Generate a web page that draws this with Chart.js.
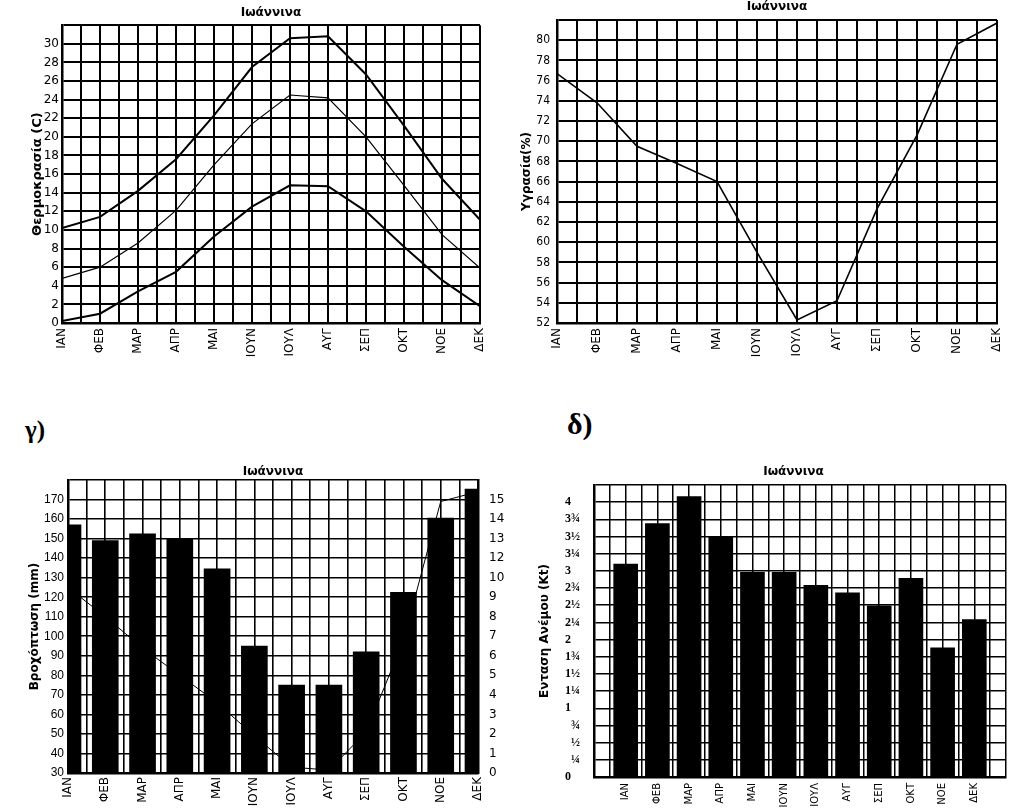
<!DOCTYPE html>
<html>
<head>
<meta charset="utf-8">
<script src="https://cdn.jsdelivr.net/npm/chart.js@4.4.0/dist/chart.umd.min.js"></script>
<style>
    body { margin: 0; background: #fff; width: 1024px; height: 808px; position: relative; overflow: hidden; }
    canvas { position: absolute; }
    .tag { position: absolute; font-family: "Liberation Serif", "DejaVu Serif", serif; font-weight: bold; line-height: 1; color: #000; }
</style>
</head>
<body>

<canvas id="tempChart" width="512" height="400" style="left:0;top:0"></canvas>
<canvas id="humChart" width="512" height="400" style="left:512px;top:0"></canvas>
<div class="tag" style="left:25px;top:417px;font-size:25px">γ)</div>
<div class="tag" style="left:567px;top:409px;font-size:30px">δ)</div>
<canvas id="rainChart" width="512" height="408" style="left:0;top:400px"></canvas>
<canvas id="windChart" width="512" height="408" style="left:512px;top:400px"></canvas>

<script>
// ---- data ----
const months = ["ΙΑΝ", "ΦΕΒ", "ΜΑΡ", "ΑΠΡ", "ΜΑΙ", "ΙΟΥΝ", "ΙΟΥΛ", "ΑΥΓ", "ΣΕΠ", "ΟΚΤ", "ΝΟΕ", "ΔΕΚ"];

const tempMax  = [10.2, 11.4, 14.2, 17.6, 22.3, 27.5, 30.6, 30.8, 26.7, 21.2, 15.5, 11.1];
const tempMean = [4.8, 6.0, 8.6, 12.1, 17.0, 21.4, 24.5, 24.2, 20.0, 14.8, 9.5, 5.9];
const tempMin  = [0.2, 1.0, 3.4, 5.5, 9.3, 12.5, 14.8, 14.7, 12.0, 8.2, 4.6, 1.8];

const humidity = [76.7, 73.8, 69.5, 67.8, 66.0, 59.0, 52.3, 54.2, 63.3, 70.6, 79.6, 81.7];

const rainMm   = [157, 149, 152.5, 150, 134.5, 95, 75, 75, 92, 122.5, 160.5, 175.3];
const rainLine = [9.5, 8.0, 6.4, 5.0, 3.6, 1.9, 0.3, 0.15, 2.1, 6.8, 13.9, 14.4];
const rainRightTicks = ["0", "1", "2", "3", "4", "5", "6", "7", "8", "9", "10", "12", "13", "14", "15", ""];

const windKt = [3.1, 3.69, 4.08, 3.5, 2.98, 2.98, 2.79, 2.68, 2.49, 2.89, 1.88, 2.29];
const windTicks = ["0", "\u2007¼", "\u2007½", "\u2007¾", "1", "1¼", "1½", "1¾", "2", "2¼", "2½", "2¾",
                   "3", "3¼", "3½", "3¾", "4", ""];

const pts = (arr, start) => arr.map((v, i) => ({ x: i + start, y: v }));
const monthLabel = (start) => (v) => Number.isInteger(v) && months[v - start] ? months[v - start] : "";

Chart.defaults.color = "#000";
Chart.defaults.font.family = "'DejaVu Sans', sans-serif";
Chart.defaults.animation = false;
Chart.defaults.plugins.legend.display = false;
Chart.defaults.plugins.tooltip.enabled = false;

const GRID = { color: "#000", lineWidth: 2, drawTicks: false };
const BORDER = { color: "#000", width: 2.5 };
const TITLE_FONT = { size: 12, weight: "bold" };


// =========================
// Temperature (lines)
// =========================
new Chart(document.getElementById("tempChart"), {
    type: "line",
    data: {
        datasets: [
            { data: pts(tempMax, 0), borderColor: "#000", borderWidth: 2, pointRadius: 0 },
            { data: pts(tempMean, 0), borderColor: "#000", borderWidth: 1.2, pointRadius: 0 },
            { data: pts(tempMin, 0), borderColor: "#000", borderWidth: 2, pointRadius: 0 }
        ]
    },
    options: {
        responsive: false,
        layout: { padding: { left: 30, right: 32, top: 0, bottom: 0 } },
        plugins: {
            title: { display: true, text: "Ιωάννινα", fullSize: false, font: TITLE_FONT, padding: { top: 5.5, bottom: 5.3 } }
        },
        scales: {
            x: {
                type: "linear", min: 0, max: 11,
                afterFit: s => { s.height = 77; },
                ticks: { stepSize: 0.5, maxTicksLimit: 100, autoSkip: false, minRotation: 90, maxRotation: 90, padding: 5,
                         font: { size: 12 }, callback: monthLabel(0) },
                grid: GRID, border: BORDER
            },
            y: {
                min: 0, max: 32,
                afterFit: s => { s.width = 32; },
                ticks: { stepSize: 2, maxTicksLimit: 100, autoSkip: false, padding: 3, font: { size: 12 },
                         callback: v => v <= 30 ? v : "" },
                grid: GRID, border: BORDER,
                title: { display: true, text: "Θερμοκρασία (C)", font: { size: 13, weight: "bold" }, padding: 0 }
            }
        }
    }
});


// =========================
// Humidity (line)
// =========================
new Chart(document.getElementById("humChart"), {
    type: "line",
    data: {
        datasets: [
            { data: pts(humidity, 0), borderColor: "#000", borderWidth: 1.6, pointRadius: 0 }
        ]
    },
    options: {
        responsive: false,
        layout: { padding: { left: 8, right: 27, top: 0, bottom: 0 } },
        plugins: {
            title: { display: true, text: "Ιωάννινα", fullSize: false, font: TITLE_FONT, padding: { top: 0, bottom: 5.6 } }
        },
        scales: {
            x: {
                type: "linear", min: 0, max: 11,
                afterFit: s => { s.height = 77; },
                ticks: { stepSize: 0.5, maxTicksLimit: 100, autoSkip: false, minRotation: 90, maxRotation: 90, padding: 5,
                         font: { size: 12 }, callback: monthLabel(0) },
                grid: GRID, border: BORDER
            },
            y: {
                min: 52, max: 82,
                afterFit: s => { s.width = 37; },
                ticks: { stepSize: 2, maxTicksLimit: 100, autoSkip: false, padding: 7,
                         font: { family: "'DejaVu Sans Condensed', 'Liberation Sans Narrow', 'DejaVu Sans'", size: 12 },
                         callback: v => v <= 80 ? v : "" },
                grid: GRID, border: BORDER,
                title: { display: true, text: "Υγρασία(%)", font: TITLE_FONT, padding: 0 }
            }
        }
    }
});


// =========================
// Rain (bars + line)
// =========================
new Chart(document.getElementById("rainChart"), {
    type: "bar",
    data: {
        datasets: [
            { type: "line", data: pts(rainLine, 0), yAxisID: "y2", borderColor: "#000", borderWidth: 1, pointRadius: 0 },
            { data: pts(rainMm, 0), yAxisID: "y", backgroundColor: "#000", barThickness: 26, clip: 0 }
        ]
    },
    options: {
        responsive: false,
        layout: { padding: { left: 28, right: 4, top: 0, bottom: 0 } },
        plugins: {
            title: { display: true, text: "Ιωάννινα", fullSize: false, font: TITLE_FONT, padding: { top: 64.8, bottom: 0.8 } }
        },
        scales: {
            x: {
                type: "linear", min: 0, max: 11, offset: false,
                afterFit: s => { s.height = 35; },
                ticks: { stepSize: 0.5, maxTicksLimit: 100, autoSkip: false, minRotation: 90, maxRotation: 90, padding: 4,
                         font: { size: 12 }, callback: monthLabel(0) },
                grid: { ...GRID, lineWidth: 1.6, offset: false }, border: BORDER
            },
            y: {
                min: 30, max: 180, beginAtZero: false,
                afterFit: s => { s.width = 40; },
                ticks: { stepSize: 10, maxTicksLimit: 100, autoSkip: false, padding: 4,
                         font: { family: "'Liberation Sans', sans-serif", size: 12 },
                         callback: v => v <= 170 ? v : "" },
                grid: { ...GRID, lineWidth: 1.6 }, border: BORDER,
                title: { display: true, text: "Βροχόπτωση (mm)", font: TITLE_FONT, padding: 0 }
            },
            y2: {
                position: "right", min: 0, max: 15,
                afterFit: s => { s.width = 30; },
                ticks: { stepSize: 1, maxTicksLimit: 100, autoSkip: false, padding: 3, font: { size: 12 },
                         callback: v => rainRightTicks[v] },
                grid: { display: false }, border: BORDER
            }
        }
    }
});


// =========================
// Wind (bars)
// =========================
new Chart(document.getElementById("windChart"), {
    type: "bar",
    data: {
        datasets: [
            { data: pts(windKt, 1), backgroundColor: "#000", barThickness: 24, clip: 0 }
        ]
    },
    options: {
        responsive: false,
        layout: { padding: { left: 53, right: 2, top: 0, bottom: 0 } },
        plugins: {
            title: { display: true, text: "Ιωάννινα", fullSize: true, font: TITLE_FONT, padding: { top: 64.8, bottom: 5.8 } }
        },
        scales: {
            x: {
                type: "linear", min: 0, max: 13, offset: false,
                afterFit: s => { s.height = 31; },
                ticks: { stepSize: 0.5, maxTicksLimit: 100, autoSkip: false, minRotation: 90, maxRotation: 90, padding: 6,
                         font: { size: 10 }, callback: monthLabel(1) },
                grid: { ...GRID, lineWidth: 1.5, offset: false }, border: BORDER
            },
            y: {
                min: 0, max: 4.25, beginAtZero: true,
                afterFit: s => { s.width = 29; },
                ticks: { stepSize: 0.25, maxTicksLimit: 100, autoSkip: false, padding: 4, crossAlign: "far",
                         font: { family: "'Liberation Serif', serif", size: 12, weight: "bold", lineHeight: 1 },
                         callback: v => windTicks[Math.round(v / 0.25)] },
                grid: { ...GRID, lineWidth: 1.5 }, border: BORDER,
                title: { display: true, text: "Ενταση Ανέμου (Kt)", font: TITLE_FONT, padding: { top: -27, bottom: 0 } }
            }
        }
    }
});
</script>
</body>
</html>
